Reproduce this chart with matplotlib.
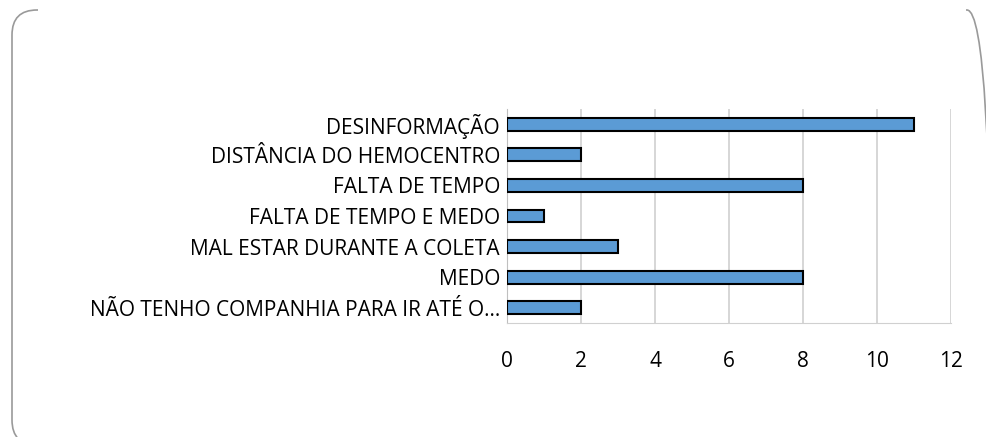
import matplotlib.pyplot as plt
from matplotlib.patches import FancyBboxPatch, Rectangle

categories = ['DESINFORMAÇÃO', 'DISTÂNCIA DO HEMOCENTRO', 'FALTA DE TEMPO',
              'FALTA DE TEMPO E MEDO', 'MAL ESTAR DURANTE A COLETA', 'MEDO',
              'NÃO TENHO COMPANHIA PARA IR ATÉ O...']
values = [11, 2, 8, 1, 3, 8, 2]
xticks = [0, 2, 4, 6, 8, 10, 12]

plt.rcParams['font.family'] = ['Open Sans', 'DejaVu Sans']

fig = plt.figure(figsize=(9.87, 4.37), dpi=100)
W, H = 987, 437

# rounded frame (pixel coords, partly off the page like the original crop)
frame = FancyBboxPatch((12, -8), 980, H - 10 + 8,
                       boxstyle='round,pad=0,rounding_size=25',
                       transform=None, facecolor='none',
                       edgecolor='#9a9a9a', linewidth=1.2)
fig.patches.append(frame)
# top edge hidden behind the caption area
fig.patches.append(Rectangle((38, H - 14), 928, 10, transform=None,
                             facecolor='white', edgecolor='none'))

ax = fig.add_axes([507 / W, 1 - 323 / H, 444 / W, 214 / H])
ypos = list(range(len(categories)))
ax.barh(ypos, values, height=0.42, color='#5b9bd5', edgecolor='black', linewidth=1.5, zorder=3)
ax.set_yticks(ypos)
ax.set_yticklabels(categories, fontsize=15)
ax.set_ylim(len(categories) - 0.5, -0.5)
ax.set_xlim(0, 12)
ax.set_xticks(xticks)
ax.tick_params(axis='x', labelsize=15, length=0, pad=20)
ax.tick_params(axis='y', length=0, pad=5)
ax.grid(axis='x', color='#d0d0d0', linewidth=1.2, zorder=0)
for s in ['top', 'right']:
    ax.spines[s].set_visible(False)
ax.spines['left'].set_color('#bfbfbf')
ax.spines['bottom'].set_color('#d0d0d0')

fig.savefig('out.png', dpi=100)
